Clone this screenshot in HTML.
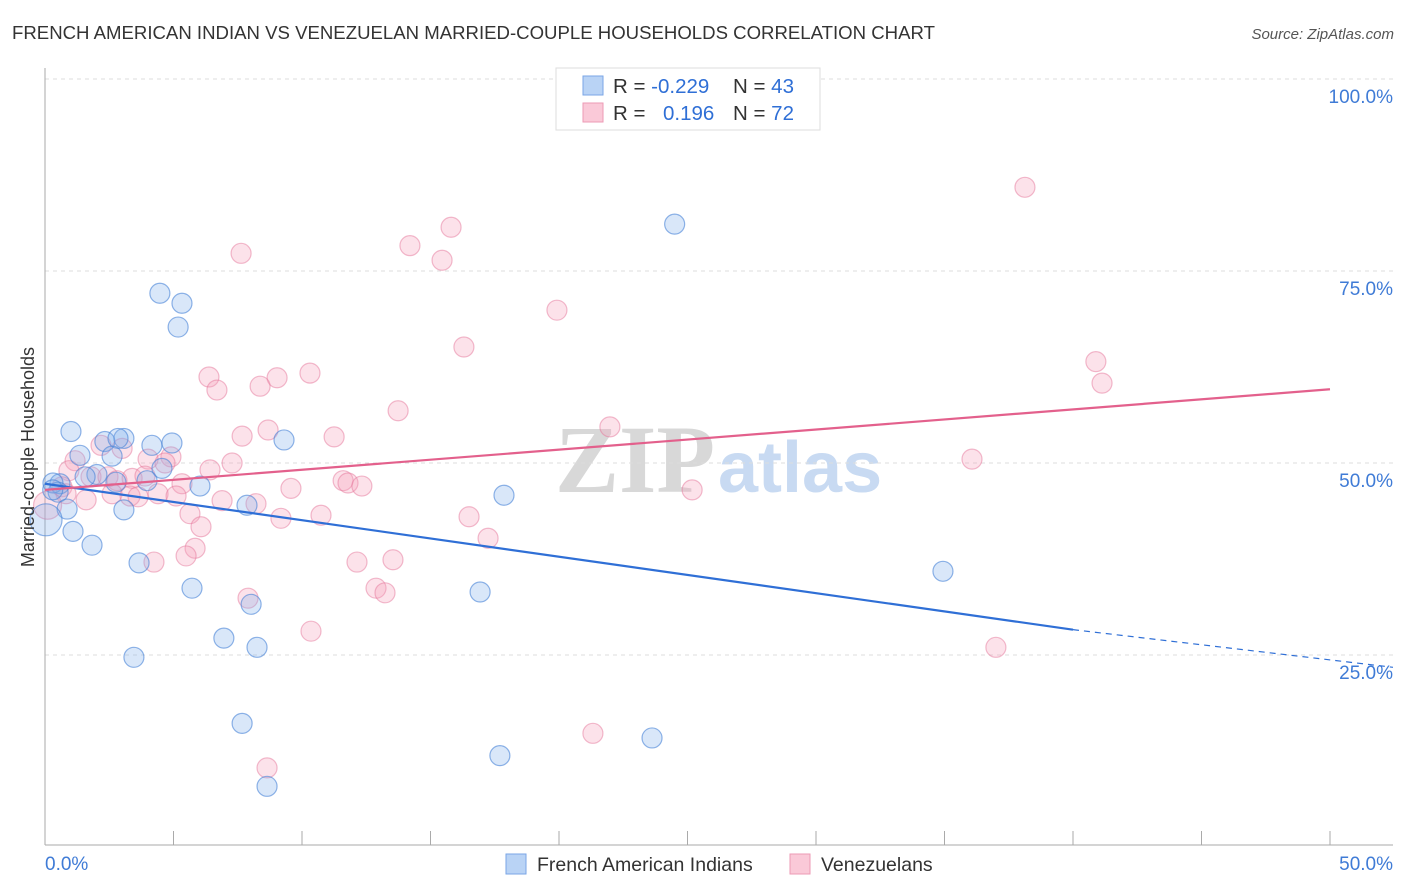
<!DOCTYPE html>
<html><head><meta charset="utf-8"><style>
body{margin:0;background:#fff;font-family:"Liberation Sans",sans-serif;}
</style></head><body>
<svg id="chart" width="1406" height="892" xmlns="http://www.w3.org/2000/svg" style="display:block">
<text x="12" y="39" font-size="18.6" fill="#333">FRENCH AMERICAN INDIAN VS VENEZUELAN MARRIED-COUPLE HOUSEHOLDS CORRELATION CHART</text>
<text x="1394" y="39" font-size="15" font-style="italic" fill="#555" text-anchor="end">Source: ZipAtlas.com</text>
<g>
<text x="555" y="492" font-size="96" font-family="Liberation Serif,serif" fill="#d8d8d8" font-weight="bold">ZIP</text>
<text x="718" y="492" font-size="72" fill="#c8daf2" font-weight="bold">atlas</text>
</g>
<g id="grid"></g>
<g id="axes"></g>
<g id="points"></g>
<g id="lines"></g>
<text transform="translate(34,457) rotate(-90)" font-size="18" fill="#333" text-anchor="middle">Married-couple Households</text>
<g>
<rect x="556" y="68" width="264" height="62" fill="#fff" stroke="#ddd"/>
<rect x="583" y="76" width="20" height="19" fill="#b9d3f5" stroke="#7aa6e6"/>
<text x="613" y="93" font-size="20.5" fill="#333">R = <tspan fill="#2f6fd6">-0.229</tspan></text>
<text x="733" y="93" font-size="20.5" fill="#333">N = <tspan fill="#2f6fd6">43</tspan></text>
<rect x="583" y="103" width="20" height="19" fill="#fac9d8" stroke="#ec9ab5"/>
<text x="613" y="120" font-size="20.5" fill="#333">R = </text>
<text x="663" y="120" font-size="20.5" fill="#2f6fd6">0.196</text>
<text x="733" y="120" font-size="20.5" fill="#333">N = <tspan fill="#2f6fd6">72</tspan></text>
</g>
<g>
<rect x="506" y="854" width="20" height="20" fill="#b9d3f5" stroke="#7aa6e6"/>
<text x="537" y="871" font-size="19.5" fill="#333">French American Indians</text>
<rect x="790" y="854" width="20" height="20" fill="#fac9d8" stroke="#ec9ab5"/>
<text x="821" y="871" font-size="19.5" fill="#333">Venezuelans</text>
</g>
</svg>
<script>
const blueX=[24.5,4.47,5.33,5.18,1.01,1.36,2.33,3.07,2.84,4.16,4.94,2.61,2.02,1.56,0.58,0.31,0.51,0.86,3.07,6.03,4.55,3.97,9.30,17.86,7.86,0.04,1.09,1.83,3.66,5.72,8.02,16.93,34.94,6.96,8.25,3.46,7.67,23.62,17.70,8.64,2.76,0.3];
const blueY=[81.1,72.1,70.8,67.7,54.1,51.0,52.8,53.2,53.2,52.3,52.6,50.9,48.5,48.2,47.3,47.4,46.2,44.0,43.9,47.0,49.3,47.7,53.0,45.8,44.5,42.6,41.1,39.3,37.0,33.7,31.6,33.2,35.9,27.2,26.0,24.7,16.1,14.2,11.9,7.9,47.5,46.5];
const pinkX=[38.13,15.80,14.20,7.63,15.45,19.92,16.30,40.89,41.13,10.31,6.38,9.03,8.37,6.69,13.74,21.98,8.68,7.67,11.25,2.18,3.00,1.17,4.01,4.90,4.67,7.28,6.42,36.07,0.93,1.79,2.45,3.39,3.89,2.80,0.66,5.33,11.60,11.79,12.33,9.57,25.18,0.82,2.61,3.31,3.62,4.40,5.10,1.60,6.89,8.21,5.64,10.74,9.18,16.50,6.07,17.24,5.84,5.49,4.24,12.14,13.54,12.88,13.23,7.90,10.35,37.00,21.32,8.64,0.1];
const pinkY=[85.9,80.7,78.3,77.3,76.4,69.9,65.1,63.2,60.4,61.7,61.2,61.1,60.0,59.5,56.8,54.7,54.3,53.5,53.4,52.3,51.9,50.3,50.5,50.8,50.0,50.0,49.1,50.5,49.0,48.2,48.2,48.0,48.3,47.7,46.9,47.3,47.7,47.4,47.0,46.7,46.5,46.0,46.0,45.7,45.6,46.0,45.7,45.2,45.1,44.7,43.4,43.2,42.8,43.0,41.7,40.2,38.9,37.9,37.1,37.1,37.4,33.7,33.1,32.4,28.1,26.0,14.8,10.3,44.5];
const blueTrendX=[0,40,52.45];
const blueTrendY=[47.3,28.3,23.4];
const pinkTrendX=[0,50];
const pinkTrendY=[46.5,59.6];
const yTicks=[25,50,75,100];
const yTickLabels=["25.0%","50.0%","75.0%","100.0%"];
const xTicks=[5,10,15,20,25,30,35,40,45,50];

const NS="http://www.w3.org/2000/svg";
const sx=v=>45+v*25.7, sy=v=>847-v*7.68;
function mk(tag,attrs,parent){const e=document.createElementNS(NS,tag);for(const k in attrs)e.setAttribute(k,attrs[k]);document.getElementById(parent).appendChild(e);return e;}

yTicks.forEach((t,i)=>{
  const g=mk('line',{x1:45,x2:1393,y1:sy(t),y2:sy(t),stroke:'#ddd','stroke-dasharray':'4,4'},'grid');
  
  
  const l=mk('text',{x:1393,y:sy(t)+24,'font-size':19,fill:'#3f7bd6','text-anchor':'end'},'grid');
  l.textContent=yTickLabels[i];
  
  
});
const ax=mk('line',{x1:45,x2:45,y1:68,y2:845,stroke:'#aaa'},'axes');


const bx=mk('line',{x1:45,x2:1393,y1:845,y2:845,stroke:'#aaa'},'axes');


xTicks.forEach(t=>{
  const tk=mk('line',{x1:sx(t),x2:sx(t),y1:831,y2:845,stroke:'#aaa'},'axes');
  
  
});
const x0=mk('text',{x:45,y:870,'font-size':19,fill:'#3f7bd6'},'axes');x0.textContent='0.0%';


const x1=mk('text',{x:1393,y:870,'font-size':19,fill:'#3f7bd6','text-anchor':'end'},'axes');x1.textContent='50.0%';



pinkX.forEach((v,i)=>{
  const c=mk('circle',{cx:sx(v),cy:sy(pinkY[i]),r:(i==pinkX.length-1?14:10),fill:'rgba(245,160,185,0.3)',stroke:'rgba(230,120,155,0.5)','stroke-width':1.2},'points');
  
  
});
blueX.forEach((v,i)=>{
  const c=mk('circle',{cx:sx(v),cy:sy(blueY[i]),r:(i==25?16:10),fill:'rgba(130,175,235,0.3)',stroke:'rgba(70,130,215,0.6)','stroke-width':1.2},'points');
  
  
});
const bl=mk('line',{x1:sx(blueTrendX[0]),y1:sy(blueTrendY[0]),x2:sx(blueTrendX[1]),y2:sy(blueTrendY[1]),stroke:'#2f6fd6','stroke-width':2.2},'lines');


const bd=mk('line',{x1:sx(blueTrendX[1]),y1:sy(blueTrendY[1]),x2:sx(blueTrendX[2]),y2:sy(blueTrendY[2]),stroke:'#2f6fd6','stroke-width':1.2,'stroke-dasharray':'6,5'},'lines');


const pl=mk('line',{x1:sx(pinkTrendX[0]),y1:sy(pinkTrendY[0]),x2:sx(pinkTrendX[1]),y2:sy(pinkTrendY[1]),stroke:'#e3608c','stroke-width':2.2},'lines');


</script>
</body></html>
